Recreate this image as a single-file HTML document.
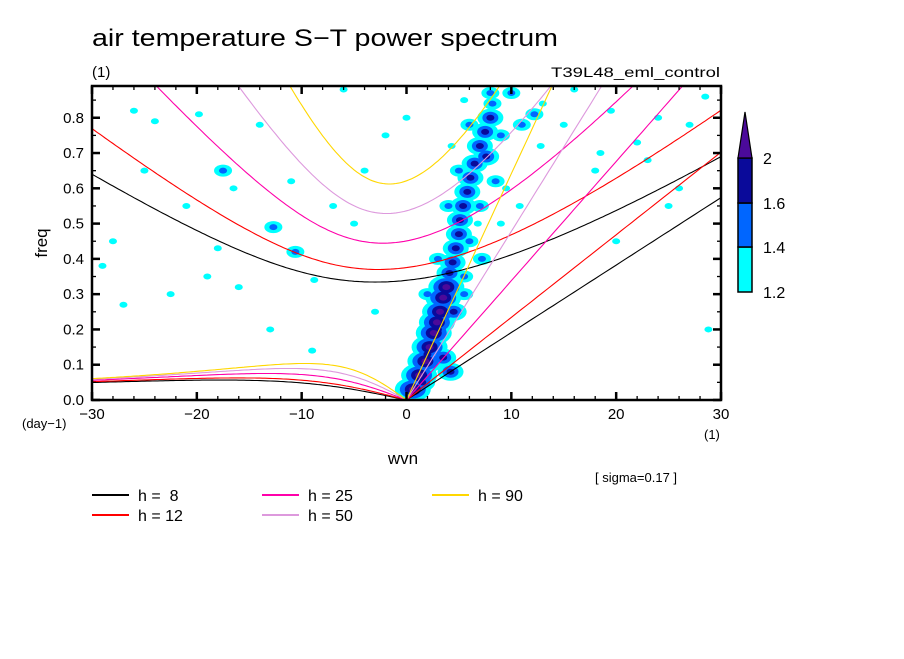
<!DOCTYPE html>
<html><head><meta charset="utf-8"><style>
body{margin:0;background:#fff;}
svg text{font-family:"Liberation Sans",sans-serif;fill:#000;}
</style></head><body>
<svg id="c" width="904" height="654" xmlns="http://www.w3.org/2000/svg">
<text x="92" y="46" font-size="24" textLength="466" lengthAdjust="spacingAndGlyphs">air temperature S−T power spectrum</text>
<text x="92" y="77" font-size="15">(1)</text>
<text x="551" y="77" font-size="14" textLength="169" lengthAdjust="spacingAndGlyphs">T39L48_eml_control</text>
<defs><clipPath id="pc"><rect x="92" y="86" width="629" height="314"/></clipPath></defs>
<g id="field" clip-path="url(#pc)"></g>
<g id="curves" clip-path="url(#pc)"></g>
<g id="axes"></g>
<text x="403" y="464" font-size="17" text-anchor="middle">wvn</text>
<text x="47" y="243" font-size="17" text-anchor="middle" transform="rotate(-90 47 243)">freq</text>
<text x="22" y="428" font-size="13">(day−1)</text>
<text x="704" y="439" font-size="13">(1)</text>
<text x="595" y="482" font-size="13">[ sigma=0.17 ]</text>
<g id="legend"></g>
<g id="cbar"></g>
</svg>
<script>
const NS="http://www.w3.org/2000/svg";
const depths=[8,12,25,50,90];
const depthColors=["#000000","#ff0000","#ff00aa","#dd99dd","#ffd700"];
const xTicks=[-30,-20,-10,0,10,20,30];
const yTicks=[0.0,0.1,0.2,0.3,0.4,0.5,0.6,0.7,0.8];
const cbLevels=["1.2","1.4","1.6","2"];
const cbColors=["#00ffff","#0066ff","#0a0a9a","#4b0a9a"];
// blobs: wavenumber, frequency, power level (1=1.2-1.4 ... 4=>2)
const blobWvn=[0.6,1.2,1.8,2.2,2.6,2.9,3.2,3.5,3.8,4.1,4.4,4.7,5.0,5.1,5.4,5.8,6.1,6.5,7.0,7.5,8.0,8.2,8.0,7.6,11.0,12.2,12.8,9.5,10.8,4.2,3.0,2.0,5.5,6.8,7.2,
 -17.5,-19.8,-12.7,-10.6,-8.8,-24,-26,-14,-6,-21,-22.5,-2,-16.5,-5,-3,-16,-13,-25,-28,-19,-9,0,-7,-11,-27,-4,
 16,19.5,24,27,22,25,18,28.5,13,18.5,26,20,28.8,15,23,-18,-29,
 1.5,3.5,4.5,5.5,2.0,3.0,6.0,4.0,7.0,5.0,8.5,6.0,9.0,5.5,10.0,4.3,9.0];
const blobFreq=[0.03,0.07,0.11,0.15,0.19,0.22,0.25,0.29,0.32,0.36,0.39,0.43,0.47,0.51,0.55,0.59,0.63,0.67,0.72,0.76,0.8,0.84,0.87,0.69,0.78,0.81,0.72,0.6,0.55,0.08,0.2,0.13,0.35,0.5,0.4,
 0.65,0.81,0.49,0.42,0.34,0.79,0.82,0.78,0.88,0.55,0.3,0.75,0.6,0.5,0.25,0.32,0.2,0.65,0.45,0.35,0.14,0.8,0.55,0.62,0.27,0.65,
 0.88,0.82,0.8,0.78,0.73,0.55,0.65,0.86,0.84,0.7,0.6,0.45,0.2,0.78,0.68,0.43,0.38,
 0.05,0.12,0.25,0.3,0.3,0.4,0.45,0.55,0.55,0.65,0.62,0.78,0.75,0.85,0.87,0.72,0.5];
const blobVal=[4,4,4,4,4,4,4,4,4,3,3,3,3,3,3,3,3,3,3,3,3,2,2,3,2,2,1,1,1,3,3,3,2,1,2,
 2,1,2,2,1,1,1,1,1,1,1,1,1,1,1,1,1,1,1,1,1,1,1,1,1,1,
 1,1,1,1,1,1,1,1,1,1,1,1,1,1,1,1,1,
 3,3,3,2,2,2,2,2,2,2,2,2,2,1,2,1,1];
const X0=92,X1=721,Y0=400,Y1=86,FMAX=0.89;
const xs=w=>X0+(w+30)/60*(X1-X0);
const ys=f=>Y0-f/FMAX*(Y0-Y1);
function mk(tag,attrs,parent){const e=document.createElementNS(NS,tag);for(const k in attrs)e.setAttribute(k,attrs[k]);parent.appendChild(e);return e;}
const field=document.getElementById('field');
for(let lv=1;lv<=4;lv++){
 for(let i=0;i<blobWvn.length;i++){
  const v=blobVal[i];
  if(v<lv)continue;
  let rx,ry;
  if(v>=3){const d=v-lv;rx=[4,8,13,18][d];ry=[3,6,9,12][d];}
  else if(v==2){rx=lv==1?9:4;ry=lv==1?6:3;}
  else {rx=4;ry=3;}
  const e=mk('ellipse',{cx:xs(blobWvn[i]),cy:ys(blobFreq[i]),rx:rx,ry:ry,fill:cbColors[lv-1]},field);
  
  
 }
}
const g=9.81,a=6.371e6,beta=2*7.292e-5/a,cpd=86400/(2*Math.PI);
const curves=document.getElementById('curves');
function igRoot(k,c){
 let w=Math.sqrt(c*c*k*k+3*beta*c)+1e-6;
 for(let i=0;i<50;i++){const f=w*w*w-(c*c*k*k+3*beta*c)*w-beta*c*c*k;const d=3*w*w-(c*c*k*k+3*beta*c);w-=f/d;}
 return w;}
depths.forEach((h,j)=>{
 const c=Math.sqrt(g*h);
 let ig="",kel="",er="";
 for(let s=-30;s<=30.001;s+=0.25){const k=s/a;const f=igRoot(k,c)*cpd;ig+=(ig?"L":"M")+xs(s).toFixed(1)+","+ys(f).toFixed(1);}
 for(let s=0;s<=30.001;s+=0.5){const f=c*s/a*cpd;kel+=(kel?"L":"M")+xs(s).toFixed(1)+","+ys(f).toFixed(1);}
 for(let s=-30;s<=0.001;s+=0.25){const k=s/a;const f=-beta*k/(k*k+3*beta/c)*cpd;er+=(er?"L":"M")+xs(s).toFixed(1)+","+ys(f).toFixed(1);}
 [["ig",ig],["kelvin",kel],["er",er]].forEach(p=>{
  const e=mk('path',{d:p[1],fill:"none",stroke:depthColors[j],"stroke-width":1.1},curves);
  
  
 });
});
const ax=document.getElementById('axes');
mk('rect',{x:X0,y:Y1,width:X1-X0,height:Y0-Y1,fill:"none",stroke:"#000","stroke-width":2.5},ax);
for(let s=-30;s<=30;s+=2){const maj=s%10==0;const L=maj?8:4;
 mk('line',{x1:xs(s),x2:xs(s),y1:Y0,y2:Y0-L,stroke:"#000","stroke-width":maj?2.5:1.3},ax);
 mk('line',{x1:xs(s),x2:xs(s),y1:Y1,y2:Y1+L,stroke:"#000","stroke-width":maj?2.5:1.3},ax);}
for(let i=0;i<=17;i++){const f=i*0.05;const maj=i%2==0;const L=maj?8:4;
 mk('line',{x1:X0,x2:X0+L,y1:ys(f),y2:ys(f),stroke:"#000","stroke-width":maj?2.5:1.3},ax);
 mk('line',{x1:X1,x2:X1-L,y1:ys(f),y2:ys(f),stroke:"#000","stroke-width":maj?2.5:1.3},ax);}
xTicks.forEach(t=>{const e=mk('text',{x:xs(t),y:Y0+19,"font-size":15,"text-anchor":"middle"},ax);e.textContent=t<0?"−"+(-t):t;
 
 });
yTicks.forEach(t=>{const e=mk('text',{x:X0-8,y:ys(t)+5,"font-size":15,"text-anchor":"end"},ax);e.textContent=t.toFixed(1);
 
 });
const lg=document.getElementById('legend');
depths.forEach((h,j)=>{const col=Math.floor(j/2),row=j%2;const x=92+col*170,y=495+row*20;
 const l=mk('line',{x1:x,x2:x+37,y1:y,y2:y,stroke:depthColors[j],"stroke-width":2},lg);
 
 
 const t=mk('text',{x:x+46,y:y+6,"font-size":16},lg);t.textContent="h = "+(h<10?"\u00a0":"")+h;
 
 });
const cb=document.getElementById('cbar');
const cx=738,cw=14,cys=[292,247,203,158];
for(let i=0;i<3;i++){const r=mk('rect',{x:cx,y:cys[i+1],width:cw,height:cys[i]-cys[i+1],fill:cbColors[i],stroke:"#000","stroke-width":1.5},cb);
 
 }
const tri=mk('polygon',{points:`${cx},158 ${cx+cw},158 ${cx+cw/2},112`,fill:cbColors[3],stroke:"#000","stroke-width":1.2},cb);


cbLevels.forEach((v,i)=>{const t=mk('text',{x:763,y:cys[i]+6,"font-size":16},cb);t.textContent=v;
 
 });
</script>
</body></html>
